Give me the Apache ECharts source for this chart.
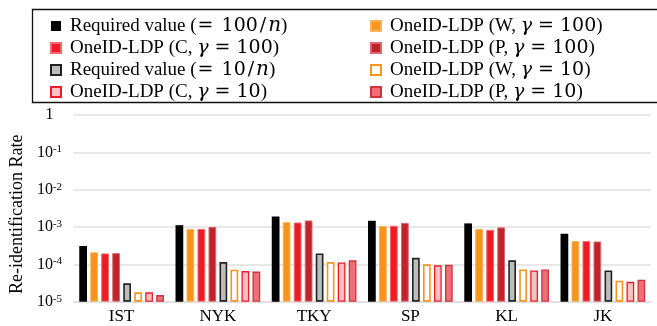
<!DOCTYPE html>
<html><head><meta charset="utf-8">
<script src="https://cdn.jsdelivr.net/npm/echarts@6/dist/echarts.min.js"></script>
<style>html,body{margin:0;padding:0;background:#fff}#c{width:657px;height:326px}</style>
</head><body><div id="c"></div>
<script>
const categories = ['IST', 'NYK', 'TKY', 'SP', 'KL', 'JK'];
const req100 = [3.1e-4, 1.12e-3, 1.9e-3, 1.47e-3, 1.25e-3, 6.6e-4];
const w100   = [2.1e-4, 0.89e-3, 1.35e-3, 1.07e-3, 0.88e-3, 4.2e-4];
const c100   = [1.96e-4, 0.89e-3, 1.32e-3, 1.08e-3, 0.84e-3, 4.2e-4];
const p100   = [2.0e-4, 1.01e-3, 1.5e-3, 1.29e-3, 0.98e-3, 4.1e-4];
const req10  = [3.1e-5, 1.15e-4, 1.96e-4, 1.5e-4, 1.28e-4, 6.9e-5];
const w10    = [1.78e-5, 7.2e-5, 1.15e-4, 1.0e-4, 7.3e-5, 3.65e-5];
const c10    = [1.78e-5, 6.6e-5, 1.13e-4, 9.4e-5, 6.9e-5, 3.4e-5];
const p10    = [1.5e-5, 6.4e-5, 1.28e-4, 9.7e-5, 7.3e-5, 3.9e-5];
const yTicks = ['1', '10^-1', '10^-2', '10^-3', '10^-4', '10^-5'];

const names = {
  req100: 'Required value ({e|=}{m|100}{s|/}{n|n})',
  c100: 'OneID-LDP (C, {g|γ}{q|=}{m|100})',
  req10: 'Required value ({e|=}{m|10}{s|/}{n|n})',
  c10: 'OneID-LDP (C, {g|γ}{q|=}{m|10})',
  w100: 'OneID-LDP (W, {g|γ}{q|=}{m|100})',
  p100: 'OneID-LDP (P, {g|γ}{q|=}{m|100})',
  w10: 'OneID-LDP (W, {g|γ}{q|=}{m|10})',
  p10: 'OneID-LDP (P, {g|γ}{q|=}{m|10})'
};
const serif = 'Liberation Serif';
const math = 'DejaVu Serif';
function bar(key, data, style) {
  return { name: names[key], type: 'bar', data: data, itemStyle: style,
    barGap: '42%', barCategoryGap: '12%', emphasis: { disabled: true } };
}
const series = [
  bar('req100', req100, { color: '#000000' }),
  bar('w100', w100, { color: '#f7941d', borderColor: '#f9b15a', borderWidth: 1 }),
  bar('c100', c100, { color: '#ed1c24', borderColor: '#f2676c', borderWidth: 1 }),
  bar('p100', p100, { color: '#c1232b', borderColor: '#d76a70', borderWidth: 1 }),
  bar('req10', req10, { color: '#bdbdbd', borderColor: '#222222', borderWidth: 1.6 }),
  bar('w10', w10, { color: '#ffffff', borderColor: '#f7941d', borderWidth: 1.6 }),
  bar('c10', c10, { color: '#f9c0c4', borderColor: '#ed1c24', borderWidth: 1.3 }),
  bar('p10', p10, { color: '#ef6f78', borderColor: '#d1323d', borderWidth: 1.3 })
];
const lh = 20;
const legendText = { fontFamily: serif, fontSize: 19, color: '#000', lineHeight: lh, padding: [0, 0, 0, 4],
  rich: {
    e: { fontFamily: math, fontSize: 19, lineHeight: lh, padding: [0, 8, 0, 1] },
    q: { fontFamily: math, fontSize: 19, lineHeight: lh, padding: [0, 6, 0, 6] },
    m: { fontFamily: math, fontSize: 19, lineHeight: lh },
    s: { fontFamily: math, fontSize: 19, lineHeight: lh, padding: [0, 2, 0, 2] },
    n: { fontFamily: math, fontStyle: 'italic', fontSize: 20, lineHeight: lh },
    g: { fontFamily: math, fontStyle: 'italic', fontSize: 19, lineHeight: lh }
  } };
function legend(left, keys) {
  return { orient: 'vertical', left: left, top: 11, itemWidth: 10, itemHeight: 10, itemGap: 2,
    icon: 'rect', selectedMode: false, textStyle: legendText, data: keys.map(k => names[k]) };
}
const chart = echarts.init(document.getElementById('c'), null, { renderer: 'canvas' });
chart.setOption({
  animation: false,
  textStyle: { fontFamily: serif },
  graphic: [{ type: 'rect', shape: { x: 32.5, y: 9.5, width: 640, height: 93 },
    style: { fill: 'none', stroke: '#111', lineWidth: 1.3 }, z: 0 }],
  legend: [legend(45, ['req100', 'c100', 'req10', 'c10']), legend(365, ['w100', 'p100', 'w10', 'p10'])],
  grid: { left: 69, right: 6, top: 115, bottom: 24.3 },
  xAxis: { type: 'category', data: categories,
    axisLine: { show: true, lineStyle: { color: '#dedede', width: 1.5 } },
    axisTick: { show: false },
    axisLabel: { fontFamily: serif, fontSize: 17, color: '#000', margin: 6 } },
  yAxis: { type: 'log', logBase: 10, min: 1e-5, max: 1, startValue: 1e-5,
    name: 'Re-identification Rate', nameLocation: 'middle', nameGap: 46,
    nameTextStyle: { fontFamily: serif, fontSize: 18, color: '#000', padding: [0, 12, 0, 0] },
    axisLine: { show: false }, axisTick: { show: false },
    splitLine: { lineStyle: { color: '#e0e0e0', width: 1.5 } },
    axisLabel: { margin: 24, align: 'center', fontFamily: serif, fontSize: 16, color: '#000',
      formatter: function (v) {
        const e = Math.round(Math.log10(v));
        const t = yTicks[-e];
        if (t.indexOf('^') < 0) return t;
        const p = t.split('^');
        return p[0] + '{s|' + p[1] + '}';
      },
      rich: { s: { fontFamily: serif, fontSize: 11, color: '#000', verticalAlign: 'top', padding: [0, 0, 6, 0] } } } },
  series: series
});
</script></body></html>
